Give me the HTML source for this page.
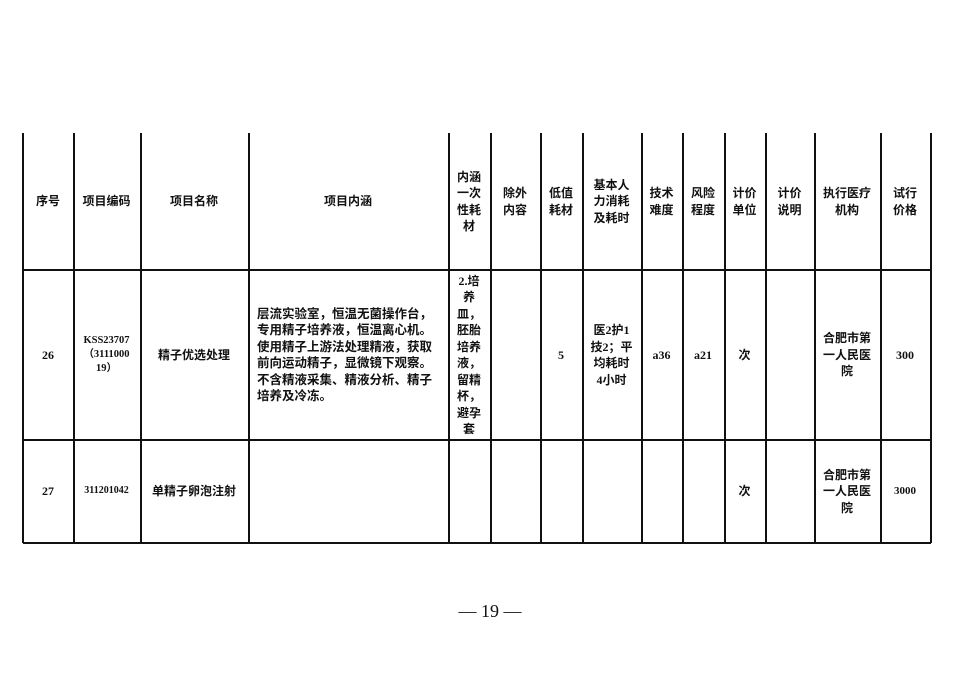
<!DOCTYPE html>
<html><head><meta charset="utf-8">
<style>
html,body{margin:0;padding:0;background:#fff;}
body{width:980px;height:699px;position:relative;overflow:hidden;font-family:"Liberation Serif","Noto Sans CJK SC",sans-serif;font-weight:bold;color:#111;}
.v{position:absolute;width:1.5px;background:#111;top:133px;height:410px;}
.h{position:absolute;height:1.5px;background:#111;left:23px;width:908px;}
.c{position:absolute;display:flex;align-items:center;justify-content:center;text-align:center;font-size:12px;line-height:16.5px;}
.l{justify-content:flex-start;text-align:left;}
</style></head><body>
<div class="v" style="left:22px"></div>
<div class="v" style="left:73px"></div>
<div class="v" style="left:140px"></div>
<div class="v" style="left:248px"></div>
<div class="v" style="left:448px"></div>
<div class="v" style="left:490px"></div>
<div class="v" style="left:540px"></div>
<div class="v" style="left:582px"></div>
<div class="v" style="left:641px"></div>
<div class="v" style="left:682px"></div>
<div class="v" style="left:724px"></div>
<div class="v" style="left:765px"></div>
<div class="v" style="left:814px"></div>
<div class="v" style="left:880px"></div>
<div class="v" style="left:930px"></div>
<div class="h" style="top:269px"></div>
<div class="h" style="top:439px"></div>
<div class="h" style="top:542px"></div>

<div class="c" style="left:23px;top:133px;width:50px;height:137px">序号</div>
<div class="c" style="left:73px;top:133px;width:67px;height:137px">项目编码</div>
<div class="c" style="left:140px;top:133px;width:108px;height:137px">项目名称</div>
<div class="c" style="left:248px;top:133px;width:200px;height:137px">项目内涵</div>
<div class="c" style="left:448px;top:133px;width:42px;height:137px">内涵<br>一次<br>性耗<br>材</div>
<div class="c" style="left:490px;top:133px;width:50px;height:137px">除外<br>内容</div>
<div class="c" style="left:540px;top:133px;width:42px;height:137px">低值<br>耗材</div>
<div class="c" style="left:582px;top:133px;width:59px;height:137px">基本人<br>力消耗<br>及耗时</div>
<div class="c" style="left:641px;top:133px;width:41px;height:137px">技术<br>难度</div>
<div class="c" style="left:682px;top:133px;width:42px;height:137px">风险<br>程度</div>
<div class="c" style="left:724px;top:133px;width:41px;height:137px">计价<br>单位</div>
<div class="c" style="left:765px;top:133px;width:49px;height:137px">计价<br>说明</div>
<div class="c" style="left:814px;top:133px;width:66px;height:137px">执行医疗<br>机构</div>
<div class="c" style="left:880px;top:133px;width:50px;height:137px">试行<br>价格</div>

<div class="c" style="left:23px;top:270px;width:50px;height:170px">26</div>
<div class="c" style="left:73px;top:270px;width:67px;height:170px;font-size:10.5px;line-height:14px">KSS23707<br>（3111000<br>19）</div>
<div class="c" style="left:140px;top:270px;width:108px;height:170px">精子优选处理</div>
<div class="c l" style="left:257px;top:270px;width:191px;height:170px;font-size:12.5px">层流实验室，恒温无菌操作台，<br>专用精子培养液，恒温离心机。<br>使用精子上游法处理精液，获取<br>前向运动精子，显微镜下观察。<br>不含精液采集、精液分析、精子<br>培养及冷冻。</div>
<div class="c" style="left:448px;top:270px;width:42px;height:170px;line-height:16.5px">2.培<br>养<br>皿，<br>胚胎<br>培养<br>液，<br>留精<br>杯，<br>避孕<br>套</div>
<div class="c" style="left:540px;top:270px;width:42px;height:170px">5</div>
<div class="c" style="left:582px;top:270px;width:59px;height:170px">医2护1<br>技2；平<br>均耗时<br>4小时</div>
<div class="c" style="left:641px;top:270px;width:41px;height:170px">a36</div>
<div class="c" style="left:682px;top:270px;width:42px;height:170px">a21</div>
<div class="c" style="left:724px;top:270px;width:41px;height:170px">次</div>
<div class="c" style="left:814px;top:270px;width:66px;height:170px">合肥市第<br>一人民医<br>院</div>
<div class="c" style="left:880px;top:270px;width:50px;height:170px">300</div>

<div class="c" style="left:23px;top:440px;width:50px;height:103px">27</div>
<div class="c" style="left:73px;top:440px;width:67px;height:103px;font-size:10px">311201042</div>
<div class="c" style="left:140px;top:440px;width:108px;height:103px">单精子卵泡注射</div>
<div class="c" style="left:724px;top:440px;width:41px;height:103px">次</div>
<div class="c" style="left:814px;top:440px;width:66px;height:103px">合肥市第<br>一人民医<br>院</div>
<div class="c" style="left:880px;top:440px;width:50px;height:103px;font-size:11px">3000</div>

<div style="position:absolute;left:440px;top:600px;width:100px;text-align:center;font-size:18px;font-weight:normal;line-height:22px">— 19 —</div>
</body></html>
